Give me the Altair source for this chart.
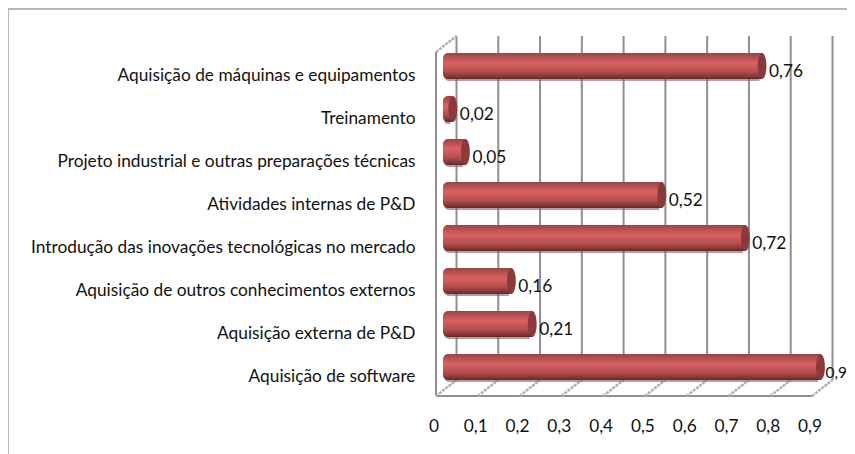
import altair as alt
import pandas as pd

categories = [
    "Aquisição de máquinas e equipamentos",
    "Treinamento",
    "Projeto industrial e outras preparações técnicas",
    "Atividades internas de P&D",
    "Introdução das inovações tecnológicas no mercado",
    "Aquisição de outros conhecimentos externos",
    "Aquisição externa de P&D",
    "Aquisição de software",
]
values = [0.76, 0.02, 0.05, 0.52, 0.72, 0.16, 0.21, 0.9]
value_labels = ["0,76", "0,02", "0,05", "0,52", "0,72", "0,16", "0,21", "0,9"]
ticks = [0, 0.1, 0.2, 0.3, 0.4, 0.5, 0.6, 0.7, 0.8, 0.9]

FONT = "Lato"
FS = 17.3
df = pd.DataFrame({"cat": categories, "v": values, "lab": value_labels, "zero": [0] * 8})
tdf = pd.DataFrame({"t": ticks})

xs = alt.Scale(domain=[0, 0.9], nice=False, zero=False)
ys = alt.Scale(domain=categories, paddingInner=0, paddingOuter=0)
W, H = 376, 344
DX, DY = 20.5, 16

x_axis = alt.Axis(
    values=ticks, title=None, domain=False, ticks=False, grid=False, labelFlush=False,
    labelOverlap=False,
    labelFont=FONT, labelFontSize=FS, labelColor="#111111", labelPadding=21, labelOffset=-2.5,
    labelExpr="replace(format(datum.value, datum.value == 0 ? 'd' : '.1f'), '.', ',')",
)
y_axis = alt.Axis(
    title=None, domain=False, ticks=False, grid=False,
    labelFont=FONT, labelFontSize=FS, labelColor="#111111", labelPadding=21, labelLimit=0,
    labelOffset=2,
)

# outer frame
frame_top = alt.Chart(tdf.head(1)).mark_rule(color="#a0a0a0", strokeWidth=1.5).encode(
    x=alt.value(-428), x2=alt.value(411), y=alt.value(-43))
frame_left = alt.Chart(tdf.head(1)).mark_rule(color="#a0a0a0", strokeWidth=1.5).encode(
    x=alt.value(-428), y=alt.value(-43), y2=alt.value(402))

# back wall gridlines
grid = alt.Chart(tdf).mark_rule(color="#8f8f8f", strokeWidth=2, xOffset=DX).encode(
    x=alt.X("t:Q", scale=xs, axis=x_axis), y=alt.value(-DY), y2=alt.value(H - DY))
# side wall and floor
wall = alt.Chart(tdf.head(1)).mark_rule(color="#8f8f8f", strokeWidth=2).encode(
    x=alt.value(0), y=alt.value(0), y2=alt.value(H))
floor_front = alt.Chart(tdf.head(1)).mark_rule(color="#8f8f8f", strokeWidth=2).encode(
    x=alt.value(0), x2=alt.value(W), y=alt.value(H))
top_diag = alt.Chart(tdf.head(1)).mark_rule(color="#b0b0b0", strokeWidth=2.5, strokeDash=[3, 1]).encode(
    x=alt.value(0), x2=alt.value(DX), y=alt.value(0), y2=alt.value(-DY))
floor_diag = alt.Chart(tdf).mark_rule(color="#b0b0b0", strokeWidth=2.5, strokeDash=[3, 1], x2Offset=DX).encode(
    x=alt.X("t:Q", scale=xs), x2=alt.X2("t:Q"), y=alt.value(H), y2=alt.value(H - DY))

grad = alt.Gradient(
    gradient="linear", x1=0, y1=0, x2=0, y2=1,
    stops=[
        alt.GradientStop(offset=0, color="#974544"),
        alt.GradientStop(offset=0.38, color="#da6261"),
        alt.GradientStop(offset=0.72, color="#b24e4d"),
        alt.GradientStop(offset=0.9, color="#853736"),
        alt.GradientStop(offset=1, color="#622827"),
    ],
)
shadow = alt.Chart(df).mark_bar(
    color="#8a5a5a", opacity=0.6, size=26, xOffset=6, x2Offset=8, yOffset=-5.5,
    cornerRadiusTopLeft=5, cornerRadiusBottomLeft=5,
).encode(
    x=alt.X("v:Q", scale=xs),
    x2=alt.X2("zero:Q"),
    y=alt.Y("cat:N", scale=ys, sort=None),
)
bars = alt.Chart(df).mark_bar(
    color=grad, size=26, xOffset=8.5, x2Offset=7, yOffset=-7.5,
    cornerRadiusTopLeft=5, cornerRadiusBottomLeft=5,
).encode(
    x=alt.X("v:Q", scale=xs),
    x2=alt.X2("zero:Q"),
    y=alt.Y("cat:N", scale=ys, sort=None, axis=y_axis),
)
caps = alt.Chart(df).mark_point(
    shape="M0,-1 A0.34,1 0 1 1 0,1 A0.34,1 0 1 1 0,-1 Z",
    filled=True, color="#8a3a39", opacity=1, size=26 * 26, xOffset=8.5, yOffset=-7.5,
).encode(x=alt.X("v:Q", scale=xs), y=alt.Y("cat:N", scale=ys, sort=None))
labels = alt.Chart(df).transform_filter("datum.v < 0.9").mark_text(
    align="left", baseline="middle", font=FONT, fontSize=FS, color="#111111", dx=15.5, dy=-1.5,
).encode(x=alt.X("v:Q", scale=xs), y=alt.Y("cat:N", scale=ys, sort=None), text="lab:N")
# the longest bar's label sits against the page edge, so it is set a little tighter
label_last = alt.Chart(df).transform_filter("datum.v >= 0.9").mark_text(
    align="left", baseline="middle", font=FONT, fontSize=15.5, color="#111111", dx=13.5, dy=-1.5,
).encode(x=alt.X("v:Q", scale=xs), y=alt.Y("cat:N", scale=ys, sort=None), text="lab:N")

chart = alt.layer(
    frame_top, frame_left, grid, wall, floor_front, top_diag, floor_diag,
    shadow, bars, caps, labels, label_last
).properties(
    width=W, height=H,
    autosize="none",
    padding={"left": 428, "top": 44, "right": 35, "bottom": 58},
    background="white",
).configure_view(stroke=None)

chart.save("out.html", embed_options={"renderer": "svg", "actions": False})
